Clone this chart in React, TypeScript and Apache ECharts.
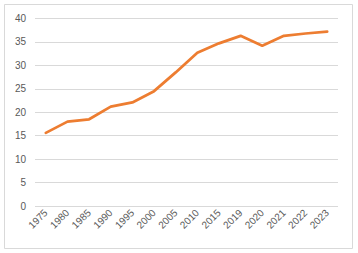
import React, { useEffect, useRef } from "react";
import * as echarts from "echarts";

const categories = ["1975", "1980", "1985", "1990", "1995", "2000", "2005", "2010", "2015", "2019", "2020", "2021", "2022", "2023"];
const values = [15.6, 18.0, 18.5, 21.2, 22.1, 24.5, 28.5, 32.7, 34.7, 36.3, 34.2, 36.3, 36.8, 37.2];
const yMin = 0;
const yMax = 40;
const yInterval = 5;

export default function App() {
  const ref = useRef<HTMLDivElement>(null);
  useEffect(() => {
    const chart = echarts.init(ref.current!, null, { renderer: "svg" });
    chart.setOption({
      animation: false,
      backgroundColor: "#ffffff",
      textStyle: { fontFamily: "Liberation Sans, Arial, sans-serif" },
      graphic: [
        {
          type: "rect",
          shape: { x: 4.5, y: 4.5, width: 348, height: 244 },
          style: { fill: "none", stroke: "#d9d9d9", lineWidth: 1 },
          silent: true,
        },
      ],
      grid: { left: 35, right: 20, top: 18.5, bottom: 47, containLabel: false },
      xAxis: {
        type: "category",
        data: categories,
        boundaryGap: true,
        axisLine: { show: false },
        axisTick: { show: false },
        axisLabel: { rotate: 45, color: "#595959", fontSize: 10, margin: 5, interval: 0 },
      },
      yAxis: {
        type: "value",
        min: yMin,
        max: yMax,
        interval: yInterval,
        axisLine: { show: false },
        axisTick: { show: false },
        axisLabel: { color: "#595959", fontSize: 10, margin: 9 },
        splitLine: { lineStyle: { color: "#d9d9d9", width: 1 } },
      },
      series: [
        {
          type: "line",
          data: values,
          symbol: "none",
          lineStyle: { color: "#ED7D31", width: 2.75, cap: "round", join: "round" },
        },
      ],
    });
    return () => chart.dispose();
  }, []);
  return <div ref={ref} style={{ position: "fixed", left: 0, top: 0, width: 358, height: 253 }} />;
}
